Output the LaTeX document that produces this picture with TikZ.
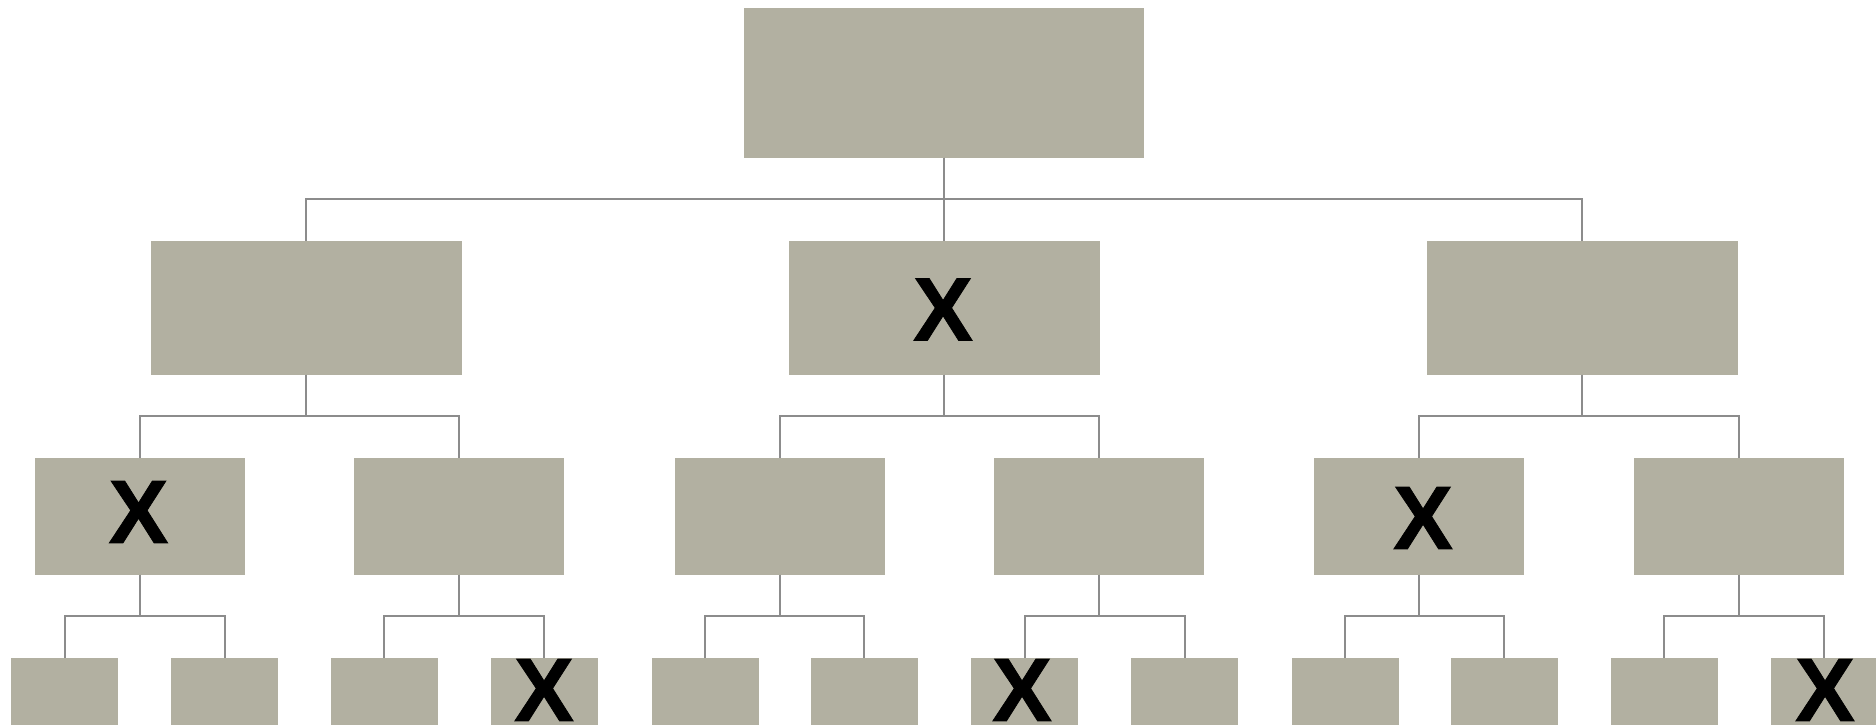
\documentclass[tikz,border=0pt]{standalone}
\usepackage{fontspec}
\setmainfont{Liberation Sans}
\newfontface\xface[FakeBold=0.8]{Liberation Sans Bold}
\definecolor{boxfill}{RGB}{178,176,161}
\definecolor{linegray}{RGB}{140,140,140}
\tikzset{
  box/.style={rectangle, fill=boxfill, draw=none, inner sep=0pt, outer sep=0pt},
  lvlone/.style={box, minimum width=400pt, minimum height=149.5pt},
  lvltwo/.style={box, minimum width=311pt, minimum height=133.5pt},
  lvlthree/.style={box, minimum width=210pt, minimum height=116.7pt},
  lvlfour/.style={box, minimum width=107pt, minimum height=100pt},
  conn/.style={draw=linegray, line width=2pt},
  xmark/.style={inner sep=0pt, outer sep=0pt, font=\fontsize{90}{90}\xface, text=black}
}
\begin{document}
\begin{tikzpicture}[x=1pt,y=-1pt]
\useasboundingbox (0,0) rectangle (1876,724);
\clip (0,0) rectangle (1876,724);
% level 1
\node[lvlone] (r) at (944,82.75) {};
% level 2
\node[lvltwo] (a) at (306,307.75) {};
\node[lvltwo] (b) at (944,307.75) {};
\node[lvltwo] (c) at (1582,307.75) {};
% level 3
\node[lvlthree] (a1) at (140,516.3) {};
\node[lvlthree] (a2) at (459,516.3) {};
\node[lvlthree] (b1) at (780,516.3) {};
\node[lvlthree] (b2) at (1099,516.3) {};
\node[lvlthree] (c1) at (1419,516.3) {};
\node[lvlthree] (c2) at (1739,516.3) {};
% level 4
\node[lvlfour] (a11) at (64.5,708) {};
\node[lvlfour] (a12) at (224.5,708) {};
\node[lvlfour] (a21) at (384,708) {};
\node[lvlfour] (a22) at (544,708) {};
\node[lvlfour] (b11) at (705,708) {};
\node[lvlfour] (b12) at (864,708) {};
\node[lvlfour] (b21) at (1024.5,708) {};
\node[lvlfour] (b22) at (1184.5,708) {};
\node[lvlfour] (c11) at (1345,708) {};
\node[lvlfour] (c12) at (1504,708) {};
\node[lvlfour] (c21) at (1664,708) {};
\node[lvlfour] (c22) at (1824,708) {};
% connectors level 1 -> 2
\draw[conn] (r.south) -- ++(0,41.5) -| (a.north);
\draw[conn] (r.south) -- ++(0,41.5) -| (c.north);
\draw[conn] (r.south) -- (b.north);
% level 2 -> 3
\foreach \p in {a,b,c}{
  \draw[conn] (\p.south) -- ++(0,41.5) -| (\p1.north);
  \draw[conn] (\p.south) -- ++(0,41.5) -| (\p2.north);
}
% level 3 -> 4
\foreach \p in {a1,a2,b1,b2,c1,c2}{
  \draw[conn] (\p.south) -- ++(0,41.3) -| (\p1.north);
  \draw[conn] (\p.south) -- ++(0,41.3) -| (\p2.north);
}
% marks
\node[xmark] (xb) at (943,309.5) {X};
\node[xmark] (xa1) at (138.5,512) {X};
\node[xmark] (xc1) at (1423,518) {X};
\node[xmark] (xa22) at (544,690) {X};
\node[xmark] (xb21) at (1022,690) {X};
\node[xmark] (xc22) at (1825,690) {X};
\end{tikzpicture}
\end{document}
